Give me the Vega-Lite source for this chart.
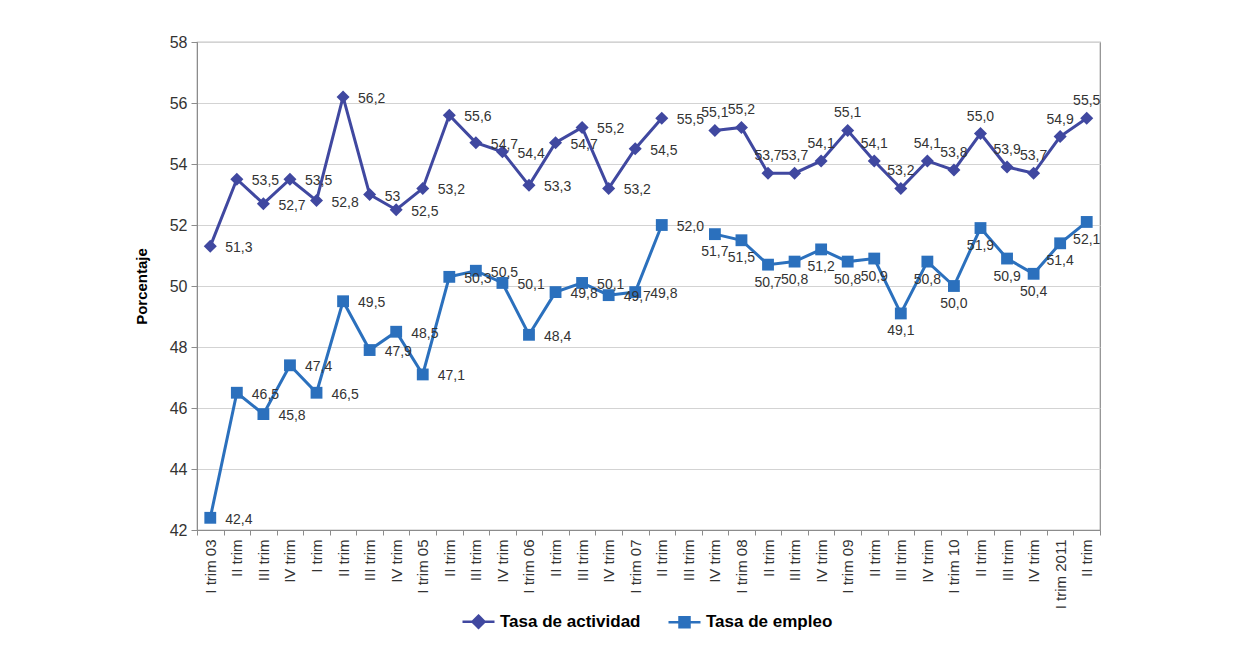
{
  "$schema": "https://vega.github.io/schema/vega-lite/v6.json",
  "width": 903,
  "height": 488,
  "autosize": {"type": "none"},
  "padding": {"left": 197, "top": 42, "right": 153, "bottom": 116},
  "background": "white",
  "config": {
    "font": "Liberation Sans",
    "view": {"stroke": "#8c8c8c", "strokeWidth": 1.2},
    "axis": {"labelFont": "Liberation Sans", "titleFont": "Liberation Sans"}
  },
  "data": {
    "values": [
      {"periodo": "I trim 03", "anio": 2003, "q": 1, "serie": "Tasa de actividad", "v": 51.3, "txt": "51,3"},
      {"periodo": "II trim|2003", "anio": 2003, "q": 2, "serie": "Tasa de actividad", "v": 53.5, "txt": "53,5"},
      {"periodo": "III trim|2003", "anio": 2003, "q": 3, "serie": "Tasa de actividad", "v": 52.7, "txt": "52,7"},
      {"periodo": "IV trim|2003", "anio": 2003, "q": 4, "serie": "Tasa de actividad", "v": 53.5, "txt": "53,5"},
      {"periodo": "I trim|2004", "anio": 2004, "q": 1, "serie": "Tasa de actividad", "v": 52.8, "txt": "52,8"},
      {"periodo": "II trim|2004", "anio": 2004, "q": 2, "serie": "Tasa de actividad", "v": 56.2, "txt": "56,2"},
      {"periodo": "III trim|2004", "anio": 2004, "q": 3, "serie": "Tasa de actividad", "v": 53.0, "txt": "53"},
      {"periodo": "IV trim|2004", "anio": 2004, "q": 4, "serie": "Tasa de actividad", "v": 52.5, "txt": "52,5"},
      {"periodo": "I trim 05", "anio": 2005, "q": 1, "serie": "Tasa de actividad", "v": 53.2, "txt": "53,2"},
      {"periodo": "II trim|2005", "anio": 2005, "q": 2, "serie": "Tasa de actividad", "v": 55.6, "txt": "55,6"},
      {"periodo": "III trim|2005", "anio": 2005, "q": 3, "serie": "Tasa de actividad", "v": 54.7, "txt": "54,7"},
      {"periodo": "IV trim|2005", "anio": 2005, "q": 4, "serie": "Tasa de actividad", "v": 54.4, "txt": "54,4"},
      {"periodo": "I trim 06", "anio": 2006, "q": 1, "serie": "Tasa de actividad", "v": 53.3, "txt": "53,3"},
      {"periodo": "II trim|2006", "anio": 2006, "q": 2, "serie": "Tasa de actividad", "v": 54.7, "txt": "54,7"},
      {"periodo": "III trim|2006", "anio": 2006, "q": 3, "serie": "Tasa de actividad", "v": 55.2, "txt": "55,2"},
      {"periodo": "IV trim|2006", "anio": 2006, "q": 4, "serie": "Tasa de actividad", "v": 53.2, "txt": "53,2"},
      {"periodo": "I trim 07", "anio": 2007, "q": 1, "serie": "Tasa de actividad", "v": 54.5, "txt": "54,5"},
      {"periodo": "II trim|2007", "anio": 2007, "q": 2, "serie": "Tasa de actividad", "v": 55.5, "txt": "55,5"},
      {"periodo": "III trim|2007", "anio": 2007, "q": 3, "serie": "Tasa de actividad", "v": null, "txt": ""},
      {"periodo": "IV trim|2007", "anio": 2007, "q": 4, "serie": "Tasa de actividad", "v": 55.1, "txt": "55,1"},
      {"periodo": "I trim 08", "anio": 2008, "q": 1, "serie": "Tasa de actividad", "v": 55.2, "txt": "55,2"},
      {"periodo": "II trim|2008", "anio": 2008, "q": 2, "serie": "Tasa de actividad", "v": 53.7, "txt": "53,7"},
      {"periodo": "III trim|2008", "anio": 2008, "q": 3, "serie": "Tasa de actividad", "v": 53.7, "txt": "53,7"},
      {"periodo": "IV trim|2008", "anio": 2008, "q": 4, "serie": "Tasa de actividad", "v": 54.1, "txt": "54,1"},
      {"periodo": "I trim 09", "anio": 2009, "q": 1, "serie": "Tasa de actividad", "v": 55.1, "txt": "55,1"},
      {"periodo": "II trim|2009", "anio": 2009, "q": 2, "serie": "Tasa de actividad", "v": 54.1, "txt": "54,1"},
      {"periodo": "III trim|2009", "anio": 2009, "q": 3, "serie": "Tasa de actividad", "v": 53.2, "txt": "53,2"},
      {"periodo": "IV trim|2009", "anio": 2009, "q": 4, "serie": "Tasa de actividad", "v": 54.1, "txt": "54,1"},
      {"periodo": "I trim 10", "anio": 2010, "q": 1, "serie": "Tasa de actividad", "v": 53.8, "txt": "53,8"},
      {"periodo": "II trim|2010", "anio": 2010, "q": 2, "serie": "Tasa de actividad", "v": 55.0, "txt": "55,0"},
      {"periodo": "III trim|2010", "anio": 2010, "q": 3, "serie": "Tasa de actividad", "v": 53.9, "txt": "53,9"},
      {"periodo": "IV trim|2010", "anio": 2010, "q": 4, "serie": "Tasa de actividad", "v": 53.7, "txt": "53,7"},
      {"periodo": "I trim 2011", "anio": 2011, "q": 1, "serie": "Tasa de actividad", "v": 54.9, "txt": "54,9"},
      {"periodo": "II trim|2011", "anio": 2011, "q": 2, "serie": "Tasa de actividad", "v": 55.5, "txt": "55,5"},
      {"periodo": "I trim 03", "anio": 2003, "q": 1, "serie": "Tasa de empleo", "v": 42.4, "txt": "42,4"},
      {"periodo": "II trim|2003", "anio": 2003, "q": 2, "serie": "Tasa de empleo", "v": 46.5, "txt": "46,5"},
      {"periodo": "III trim|2003", "anio": 2003, "q": 3, "serie": "Tasa de empleo", "v": 45.8, "txt": "45,8"},
      {"periodo": "IV trim|2003", "anio": 2003, "q": 4, "serie": "Tasa de empleo", "v": 47.4, "txt": "47,4"},
      {"periodo": "I trim|2004", "anio": 2004, "q": 1, "serie": "Tasa de empleo", "v": 46.5, "txt": "46,5"},
      {"periodo": "II trim|2004", "anio": 2004, "q": 2, "serie": "Tasa de empleo", "v": 49.5, "txt": "49,5"},
      {"periodo": "III trim|2004", "anio": 2004, "q": 3, "serie": "Tasa de empleo", "v": 47.9, "txt": "47,9"},
      {"periodo": "IV trim|2004", "anio": 2004, "q": 4, "serie": "Tasa de empleo", "v": 48.5, "txt": "48,5"},
      {"periodo": "I trim 05", "anio": 2005, "q": 1, "serie": "Tasa de empleo", "v": 47.1, "txt": "47,1"},
      {"periodo": "II trim|2005", "anio": 2005, "q": 2, "serie": "Tasa de empleo", "v": 50.3, "txt": "50,3"},
      {"periodo": "III trim|2005", "anio": 2005, "q": 3, "serie": "Tasa de empleo", "v": 50.5, "txt": "50,5"},
      {"periodo": "IV trim|2005", "anio": 2005, "q": 4, "serie": "Tasa de empleo", "v": 50.1, "txt": "50,1"},
      {"periodo": "I trim 06", "anio": 2006, "q": 1, "serie": "Tasa de empleo", "v": 48.4, "txt": "48,4"},
      {"periodo": "II trim|2006", "anio": 2006, "q": 2, "serie": "Tasa de empleo", "v": 49.8, "txt": "49,8"},
      {"periodo": "III trim|2006", "anio": 2006, "q": 3, "serie": "Tasa de empleo", "v": 50.1, "txt": "50,1"},
      {"periodo": "IV trim|2006", "anio": 2006, "q": 4, "serie": "Tasa de empleo", "v": 49.7, "txt": "49,7"},
      {"periodo": "I trim 07", "anio": 2007, "q": 1, "serie": "Tasa de empleo", "v": 49.8, "txt": "49,8"},
      {"periodo": "II trim|2007", "anio": 2007, "q": 2, "serie": "Tasa de empleo", "v": 52.0, "txt": "52,0"},
      {"periodo": "III trim|2007", "anio": 2007, "q": 3, "serie": "Tasa de empleo", "v": null, "txt": ""},
      {"periodo": "IV trim|2007", "anio": 2007, "q": 4, "serie": "Tasa de empleo", "v": 51.7, "txt": "51,7"},
      {"periodo": "I trim 08", "anio": 2008, "q": 1, "serie": "Tasa de empleo", "v": 51.5, "txt": "51,5"},
      {"periodo": "II trim|2008", "anio": 2008, "q": 2, "serie": "Tasa de empleo", "v": 50.7, "txt": "50,7"},
      {"periodo": "III trim|2008", "anio": 2008, "q": 3, "serie": "Tasa de empleo", "v": 50.8, "txt": "50,8"},
      {"periodo": "IV trim|2008", "anio": 2008, "q": 4, "serie": "Tasa de empleo", "v": 51.2, "txt": "51,2"},
      {"periodo": "I trim 09", "anio": 2009, "q": 1, "serie": "Tasa de empleo", "v": 50.8, "txt": "50,8"},
      {"periodo": "II trim|2009", "anio": 2009, "q": 2, "serie": "Tasa de empleo", "v": 50.9, "txt": "50,9"},
      {"periodo": "III trim|2009", "anio": 2009, "q": 3, "serie": "Tasa de empleo", "v": 49.1, "txt": "49,1"},
      {"periodo": "IV trim|2009", "anio": 2009, "q": 4, "serie": "Tasa de empleo", "v": 50.8, "txt": "50,8"},
      {"periodo": "I trim 10", "anio": 2010, "q": 1, "serie": "Tasa de empleo", "v": 50.0, "txt": "50,0"},
      {"periodo": "II trim|2010", "anio": 2010, "q": 2, "serie": "Tasa de empleo", "v": 51.9, "txt": "51,9"},
      {"periodo": "III trim|2010", "anio": 2010, "q": 3, "serie": "Tasa de empleo", "v": 50.9, "txt": "50,9"},
      {"periodo": "IV trim|2010", "anio": 2010, "q": 4, "serie": "Tasa de empleo", "v": 50.4, "txt": "50,4"},
      {"periodo": "I trim 2011", "anio": 2011, "q": 1, "serie": "Tasa de empleo", "v": 51.4, "txt": "51,4"},
      {"periodo": "II trim|2011", "anio": 2011, "q": 2, "serie": "Tasa de empleo", "v": 52.1, "txt": "52,1"}
    ]
  },
  "encoding": {
    "x": {
      "field": "periodo",
      "type": "nominal",
      "sort": null,
      "bandPosition": 0.5,
      "scale": {"type": "band", "paddingInner": 0, "paddingOuter": 0},
      "axis": {
        "title": null,
        "labelExpr": "isString(datum.value) ? '' + split(datum.value, '|')[0] : ''",
        "labelAngle": 270,
        "labelFontSize": 15,
        "labelColor": "#333333",
        "labelPadding": 4,
        "tickBand": "extent",
        "tickSize": 5,
        "tickColor": "#8c8c8c",
        "domainColor": "#8c8c8c",
        "grid": false
      }
    },
    "y": {
      "field": "v",
      "type": "quantitative",
      "scale": {"domain": [42, 58], "nice": false, "zero": false},
      "axis": {
        "title": "Porcentaje",
        "titleFontSize": 15,
        "titleFontWeight": "bold",
        "titleColor": "#000000",
        "titlePadding": 20,
        "values": [42, 44, 46, 48, 50, 52, 54, 56, 58],
        "labelFontSize": 16,
        "labelColor": "#333333",
        "labelPadding": 4,
        "tickSize": 6,
        "tickColor": "#8c8c8c",
        "domainColor": "#8c8c8c",
        "grid": true,
        "gridColor": "#d3d3d3",
        "gridWidth": 1.2
      }
    }
  },
  "layer": [
    {
      "mark": {"type": "line", "strokeWidth": 3, "invalid": "break-paths-show-domains"},
      "encoding": {
        "color": {
          "field": "serie",
          "type": "nominal",
          "scale": {"domain": ["Tasa de actividad", "Tasa de empleo"], "range": ["#4048A0", "#2B70BD"]},
          "legend": {
            "title": null,
            "orient": "none",
            "legendX": 270,
            "legendY": 568,
            "direction": "horizontal",
            "labelFont": "Liberation Sans",
            "labelFontSize": 17,
            "labelFontWeight": "bold",
            "labelColor": "#000000",
            "labelOffset": 10,
            "columnPadding": 22,
            "symbolSize": 400,
            "symbolStrokeWidth": 2.5
          }
        }
      }
    },
    {
      "transform": [{"filter": "false"}],
      "mark": {"type": "point", "filled": true, "opacity": 1, "size": 400, "strokeWidth": 2.5},
      "encoding": {
        "color": {"field": "serie", "type": "nominal"},
        "stroke": {
          "field": "serie",
          "type": "nominal",
          "scale": {"domain": ["Tasa de actividad", "Tasa de empleo"], "range": ["#4048A0", "#2B70BD"]}
        },
        "shape": {
          "field": "serie",
          "type": "nominal",
          "scale": {
            "domain": ["Tasa de actividad", "Tasa de empleo"],
            "range": ["M-1.6,0L1.6,0M0,-0.6L0.6,0L0,0.6L-0.6,0Z", "M-1.6,0L1.6,0M-0.5,-0.5L0.5,-0.5L0.5,0.5L-0.5,0.5Z"]
          }
        }
      }
    },
    {
      "transform": [{"filter": "datum.serie === 'Tasa de actividad'"}],
      "mark": {"type": "point", "filled": true, "opacity": 1, "size": 170, "shape": "diamond"},
      "encoding": {"color": {"field": "serie", "type": "nominal"}}
    },
    {
      "transform": [{"filter": "datum.serie === 'Tasa de empleo'"}],
      "mark": {"type": "point", "filled": true, "opacity": 1, "size": 140, "shape": "square"},
      "encoding": {"color": {"field": "serie", "type": "nominal"}}
    },
    {
      "transform": [{"filter": "datum.v != null && datum.anio * 10 + datum.q < 20073"}],
      "mark": {"type": "text", "align": "left", "baseline": "middle", "dx": 15, "dy": 2, "fontSize": 14, "font": "Liberation Sans", "color": "#333333"},
      "encoding": {"text": {"field": "txt"}}
    },
    {
      "transform": [{"filter": "datum.v != null && datum.anio * 10 + datum.q > 20073 && datum.serie === 'Tasa de actividad'"}],
      "mark": {"type": "text", "align": "center", "baseline": "middle", "dy": -17, "fontSize": 14, "font": "Liberation Sans", "color": "#333333"},
      "encoding": {"text": {"field": "txt"}}
    },
    {
      "transform": [{"filter": "datum.v != null && datum.anio * 10 + datum.q > 20073 && datum.serie === 'Tasa de empleo'"}],
      "mark": {"type": "text", "align": "center", "baseline": "middle", "dy": 18, "fontSize": 14, "font": "Liberation Sans", "color": "#333333"},
      "encoding": {"text": {"field": "txt"}}
    }
  ]
}
